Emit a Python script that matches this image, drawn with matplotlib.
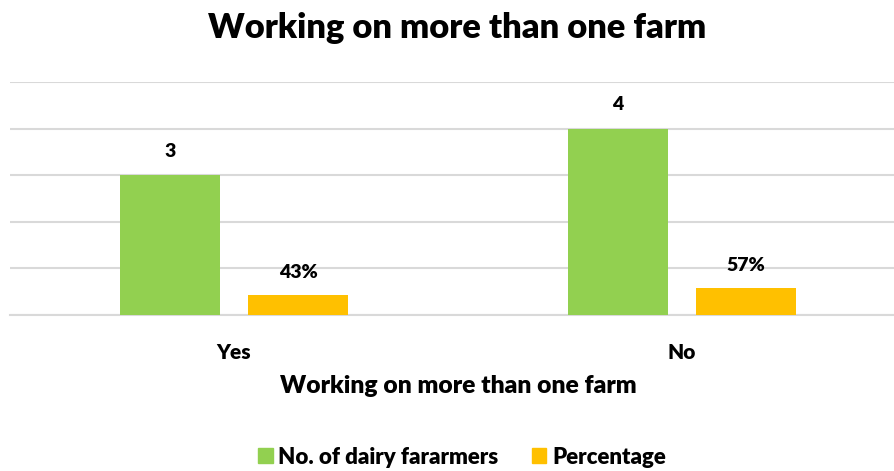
import numpy as np
import matplotlib.pyplot as plt
from matplotlib.patches import Patch

categories = ['Yes', 'No']
farmers = [3, 4]
percentage = [0.43, 0.57]
pct_labels = ['43%', '57%']

plt.rcParams['font.family'] = ['Lato', 'DejaVu Sans']
plt.rcParams['font.weight'] = 'heavy'

green = '#92d050'
orange = '#ffc000'

fig = plt.figure(figsize=(8.94, 4.71), dpi=100)
ax = fig.add_axes([10 / 894, 1 - 315 / 471, 884 / 894, (315 - 82) / 471])

x = np.arange(len(categories))
w = 0.223
off = 0.143
b1 = ax.bar(x - off, farmers, w, color=green, zorder=3)
b2 = ax.bar(x + off, percentage, w, color=orange, zorder=3)

for rect, v in zip(b1, farmers):
    ax.text(rect.get_x() + rect.get_width() / 2, v + 0.33, str(v),
            ha='center', va='bottom', fontsize=14, fontweight='heavy')
for rect, v, lab in zip(b2, percentage, pct_labels):
    ax.text(rect.get_x() + rect.get_width() / 2, v + 0.3, lab,
            ha='center', va='bottom', fontsize=14, fontweight='heavy')

ax.set_xlim(-0.5, 1.473)
ax.set_ylim(0, 5)
ax.set_yticks(np.arange(0, 6, 1))
ax.yaxis.grid(True, color='#d9d9d9', linewidth=1.5, zorder=0)
ax.tick_params(axis='y', left=False, labelleft=False)
ax.tick_params(axis='x', bottom=False, labelsize=15, pad=17)
ax.set_xticks(x)
ax.set_xticklabels(categories, fontweight='heavy')
for s in ['top', 'right', 'left']:
    ax.spines[s].set_visible(False)
ax.spines['bottom'].set_color('#d9d9d9')
ax.spines['bottom'].set_linewidth(1.5)

fig.text(457 / 894, 1 - 28 / 471, 'Working on more than one farm', ha='center', va='center',
         fontsize=24.8, fontweight='heavy')
fig.text(458 / 894, 1 - 386 / 471, 'Working on more than one farm', ha='center', va='center',
         fontsize=17.7, fontweight='heavy')

handles = [Patch(color=green, label='No. of dairy fararmers'),
           Patch(color=orange, label='Percentage')]
fig.legend(handles=handles, loc='center', bbox_to_anchor=(462 / 894, 1 - 457 / 471), ncol=2,
           frameon=False, prop={'size': 16, 'weight': 'heavy'}, handlelength=0.65,
           handleheight=0.65, handletextpad=0.25, columnspacing=1.5)

fig.savefig('out.png', dpi=100)
